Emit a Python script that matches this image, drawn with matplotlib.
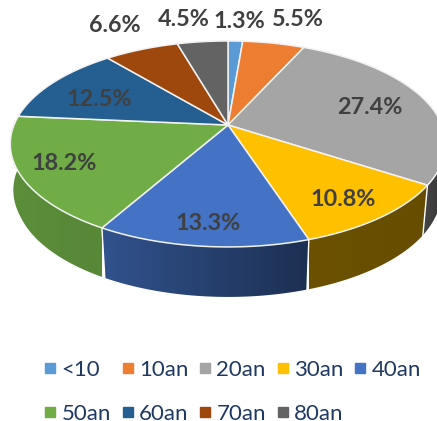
import matplotlib
matplotlib.use('Agg')
import matplotlib.pyplot as plt
from matplotlib.lines import Line2D
from matplotlib.patches import Polygon
import numpy as np

categories = ['<10', '10an', '20an', '30an', '40an', '50an', '60an', '70an', '80an']
values = [1.3, 5.5, 27.4, 10.8, 13.3, 18.2, 12.5, 6.6, 4.5]

colors = ['#5B9BD5', '#ED7D31', '#A5A5A5', '#FFC000', '#4472C4',
          '#70AD47', '#255E91', '#9E480E', '#636363']
# luminosite du flanc, gauche puis droite de chaque part
wall_left = [0.6, 0.6, 0.42, 0.42, 0.72, 0.82, 0.7, 0.6, 0.6]
wall_right = [0.6, 0.6, 0.32, 0.40, 0.42, 0.78, 0.7, 0.6, 0.6]
label_xy = [(239, 21), (298, 20), (370, 108), (343, 199), (208, 223),
            (64, 164), (99, 100), (115, 25), (184, 19)]

plt.rcParams['font.family'] = ['Lato', 'DejaVu Sans']

# camera : projection du disque incline
cx, cy = 228, 125
k = 0.184
sx, sy = 214, 99.5
depth = 50


def rim(theta):
    u, v = np.sin(theta), np.cos(theta)
    w = 1 + k * v
    return cx + sx * u / w, cy - sy * v / w


def lower_x(theta, x):
    # le bas du flanc rentre un peu vers le centre, surtout devant
    inset = 1 - 0.023 * np.clip((0.2 - np.cos(theta)) / 0.6, 0, 1)
    return cx + (x - cx) * inset


fig = plt.figure(figsize=(4.37, 4.21), dpi=100)
ax = fig.add_axes([0, 0, 1, 1])
ax.axis('off')

edges = 2 * np.pi * np.cumsum([0] + values) / sum(values)

# flancs avec degrade, seulement la partie visible devant
for i, c in enumerate(colors):
    ts = np.linspace(edges[i], edges[i + 1], 120)
    ts = ts[np.cos(ts) < 0.3]
    if len(ts) < 2:
        continue
    xs, ys = rim(ts)
    xb = lower_x(ts, xs)
    poly = Polygon(np.c_[np.r_[xs, xb[::-1]], np.r_[ys, ys[::-1] + depth]], closed=True,
                   facecolor='none', edgecolor='none')
    ax.add_patch(poly)
    base = np.array(matplotlib.colors.to_rgb(c))
    shade = np.linspace(wall_left[i], wall_right[i], 64)
    grad = (base[None, None, :] * shade[None, :, None]).clip(0, 1)
    im = ax.imshow(grad, extent=(xs.min(), xs.max(), ys.max() + depth, ys.min()),
                   aspect='auto', interpolation='bilinear', zorder=1)
    im.set_clip_path(poly)

# separations blanches sur le flanc
for t in edges[:-1]:
    x, y = rim(t)
    if np.cos(t) < 0:
        ax.plot([x, lower_x(t, x)], [y, y + depth], color='white', lw=1, zorder=2)

# dessus du camembert
for i, c in enumerate(colors):
    ts = np.linspace(edges[i], edges[i + 1], 120)
    xs, ys = rim(ts)
    ax.fill(np.r_[cx, xs], np.r_[cy, ys], facecolor=c, edgecolor='#F2F2F2', lw=1.1, zorder=3)

for txt, (x, y) in zip(values, label_xy):
    ax.text(x, y, f'{txt}%', ha='center', va='center', fontsize=16.8, fontweight='bold',
            color='#404040', zorder=4)

ax.set_xlim(0, 437)
ax.set_ylim(421, 0)

handles = [Line2D([], [], linestyle='none', marker='s', markersize=7, color=c) for c in colors]
# le legend remplit par colonnes : on remet l'ordre pour lire par lignes
order = [0, 5, 1, 6, 2, 7, 3, 8, 4]
ax.legend([handles[i] for i in order], [categories[i] for i in order], ncol=5,
          loc='center', bbox_to_anchor=(0.5265, 0.0695), frameon=False, fontsize=16,
          labelcolor='#1F3864', columnspacing=0.26, handletextpad=0.0, handlelength=1.0,
          labelspacing=1.08, borderpad=0)

fig.savefig('out.png', dpi=100)
